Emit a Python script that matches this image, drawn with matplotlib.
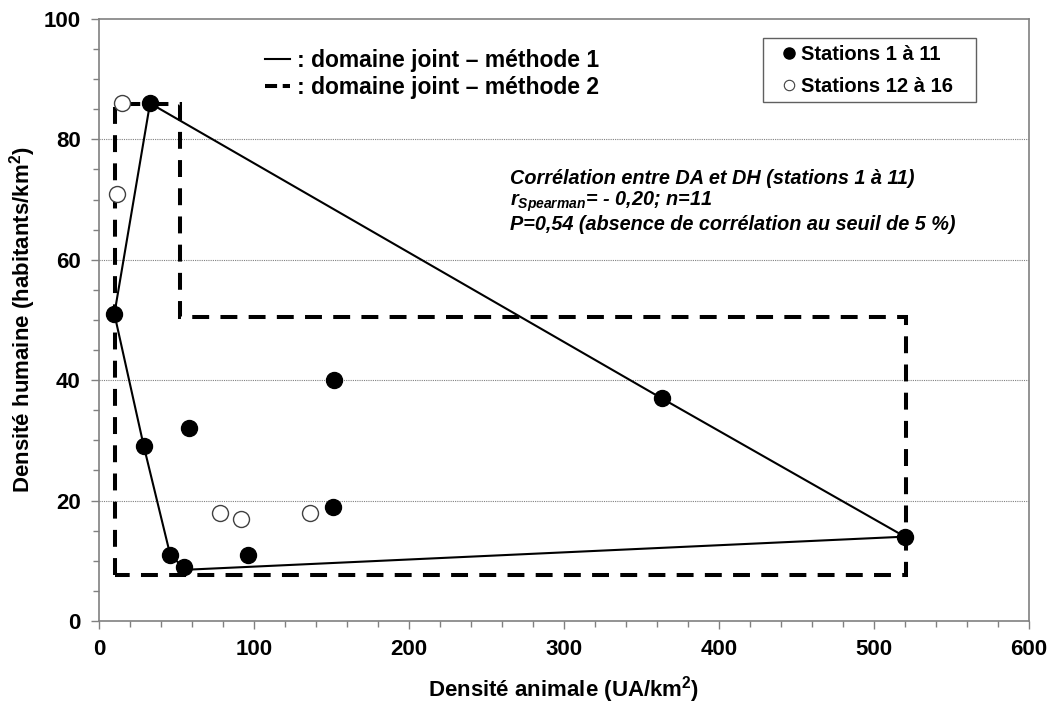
import matplotlib
matplotlib.use('Agg')
from matplotlib import pyplot as plt
from matplotlib.lines import Line2D
from matplotlib.patches import Rectangle
from matplotlib.ticker import MultipleLocator

# Stations 1 to 11 (filled) and 12 to 16 (open)
fill_x = [33, 10, 29, 58, 152, 363, 520, 46, 55, 96, 151]
fill_y = [86, 51, 29, 32, 40, 37, 14, 11, 9, 11, 19]
open_x = [15, 12, 78, 92, 136]
open_y = [86, 71, 18, 17, 18]

# joint domain, method 1 (convex hull) and method 2 (rectilinear)
dom1_x = [10, 29, 46, 56, 520, 363, 33, 10]
dom1_y = [51, 29, 11, 8.5, 14, 37, 86, 51]
dom2_x = [10.5, 10.5, 52.5, 52.5, 520.5, 520.5, 10.5]
dom2_y = [7.6, 85.8, 85.8, 50.5, 50.5, 7.6, 7.6]

plt.rcParams['font.family'] = ['Liberation Sans', 'DejaVu Sans']
plt.rcParams['font.weight'] = 'bold'
plt.rcParams['mathtext.fontset'] = 'custom'
plt.rcParams['mathtext.it'] = 'Liberation Sans:italic:bold'
plt.rcParams['mathtext.rm'] = 'Liberation Sans:bold'

fig = plt.figure(figsize=(10.52, 7.04), dpi=100)
ax = fig.add_axes([0.094, 0.118, 0.884, 0.855])

ax.plot(dom2_x, dom2_y, color='black', lw=2.9, ls=(0, (4.2, 2.8)),
        zorder=3, solid_joinstyle='miter', dash_joinstyle='miter')
ax.plot(dom1_x, dom1_y, color='black', lw=1.5, zorder=3)
ax.plot(open_x, open_y, 'o', ms=11.5, mfc='white', mec='#404040', mew=1,
        zorder=4)
ax.plot(fill_x, fill_y, 'o', ms=11.5, color='black', zorder=5)

ax.set_xlim(0, 600)
ax.set_ylim(0, 100)
ax.xaxis.set_major_locator(MultipleLocator(100))
ax.xaxis.set_minor_locator(MultipleLocator(20))
ax.yaxis.set_major_locator(MultipleLocator(20))
ax.yaxis.set_minor_locator(MultipleLocator(5))
ax.tick_params(which='major', length=6, width=1, color='#808080',
               labelsize=16, pad=7)
ax.tick_params(which='minor', length=4, width=1, color='#808080')
for s in ax.spines.values():
    s.set_color('#808080')
    s.set_linewidth(1.2)

for yv in [20, 40, 60, 80]:
    ax.axhline(yv, color='#808080', lw=0.8, ls=(0, (1, 1)), zorder=1)

ax.set_xlabel(r'Densité animale (UA/km$^{2}$)', fontsize=16,
              fontweight='bold', labelpad=10)
ax.set_ylabel(r'Densité humaine (habitants/km$^{2}$)', fontsize=16,
              fontweight='bold', labelpad=4)

# Legend for the two domain outlines (no frame)
line_handles = [Line2D([], [], color='black', lw=1.5),
                Line2D([], [], color='black', lw=2.9, ls=(0, (3, 1.4)))]
leg1 = ax.legend(line_handles,
                 [': domaine joint – méthode 1', ': domaine joint – méthode 2'],
                 loc='upper left', bbox_to_anchor=(0.1785, 0.95),
                 frameon=False, fontsize=16.5, handlelength=1.1,
                 handletextpad=0.3, labelspacing=0.15, borderpad=0,
                 borderaxespad=0)
ax.add_artist(leg1)

# Legend for stations, framed by a plain box
ax.add_patch(Rectangle((0.714, 0.862), 0.229, 0.106, transform=ax.transAxes,
                       facecolor='white', edgecolor='#606060', lw=1,
                       zorder=6))
pt_handles = [Line2D([], [], ls='', marker='o', ms=8, color='black'),
              Line2D([], [], ls='', marker='o', ms=7.5, mfc='white',
                     mec='#404040', mew=0.8)]
leg2 = ax.legend(pt_handles, ['Stations 1 à 11', 'Stations 12 à 16'],
                 loc='upper left', bbox_to_anchor=(0.736, 0.957),
                 frameon=False, fontsize=14.5, handlelength=0.6,
                 handletextpad=0.3, labelspacing=0.65, borderpad=0,
                 borderaxespad=0)
leg2.set_zorder(7)

ax.text(265, 75.0,
        'Corrélation entre DA et DH (stations 1 à 11)\n'
        r'$r_{Spearman}$= - 0,20; n=11' '\n'
        'P=0,54 (absence de corrélation au seuil de 5 %)',
        style='italic', fontsize=14.3, va='top', ha='left', linespacing=1.05)

fig.savefig('out.png', dpi=100)
